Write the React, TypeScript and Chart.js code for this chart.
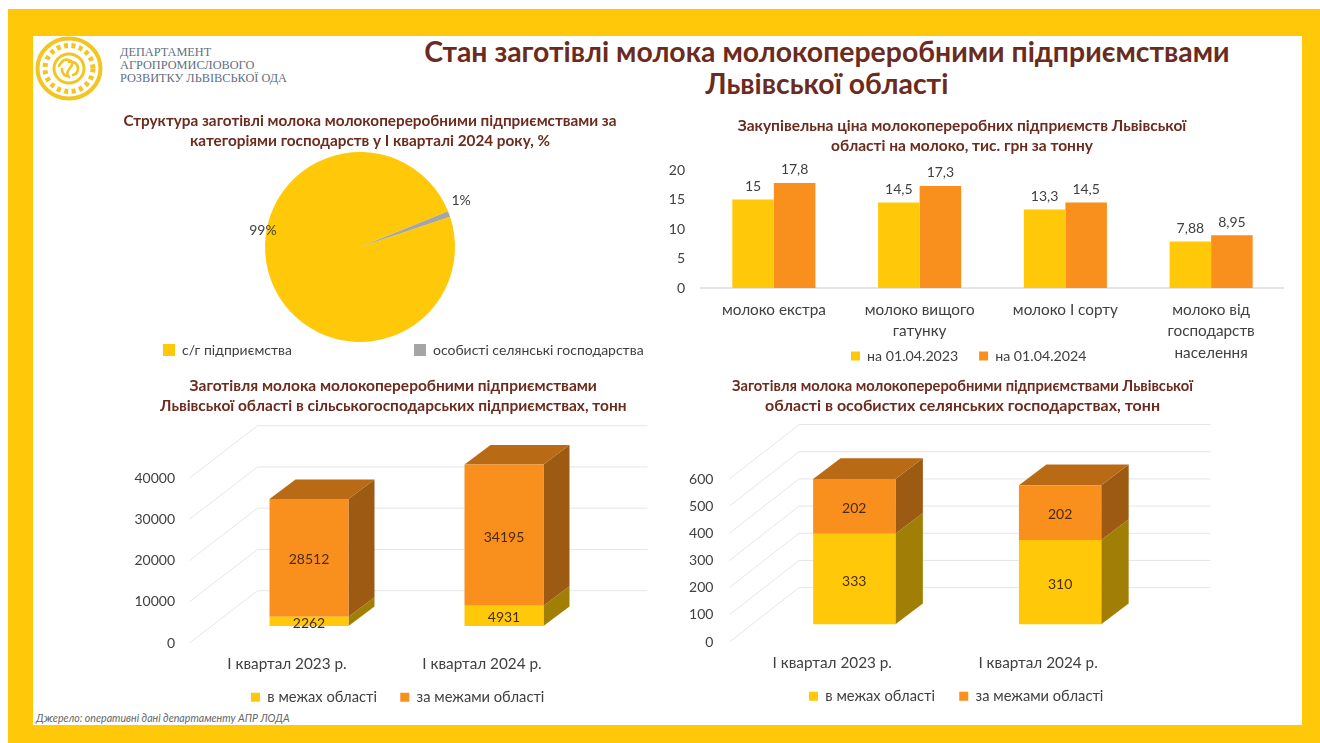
import React, { useEffect, useRef } from "react";
import { Chart, registerables } from "chart.js";

Chart.register(...registerables);

const FONT = "Lato, 'Noto Sans', sans-serif";
const YELLOW = "#FFC90A";
const ORANGE = "#F98F1C";
const TEXT = "#404040";
const TITLE = "#6B2B1E";

const mainTitle = ["Стан заготівлі молока молокопереробними підприємствами", "Львівської області"];
const orgName = ["ДЕПАРТАМЕНТ", "АГРОПРОМИСЛОВОГО", "РОЗВИТКУ ЛЬВІВСЬКОЇ ОДА"];
const sourceNote = "Джерело: оперативні дані департаменту АПР ЛОДА";

const pieTitle = ["Структура заготівлі молока молокопереробними підприємствами за", "категоріями господарств у І кварталі 2024 року, %"];
const pieLabels = ["с/г підприємства", "особисті селянські господарства"];
const pieValues = [99, 1];

const priceTitle = ["Закупівельна ціна молокопереробних підприємств Львівської", "області на молоко, тис. грн за тонну"];
const priceCategories = [["молоко екстра"], ["молоко вищого", "гатунку"], ["молоко І сорту"], ["молоко від", "господарств", "населення"]];
const price2023 = [15, 14.5, 13.3, 7.88];
const price2024 = [17.8, 17.3, 14.5, 8.95];

const quarters = ["І квартал 2023 р.", "І квартал 2024 р."];
const seriesInside = "в межах області";
const seriesOutside = "за межами області";

const farmsTitle = ["Заготівля молока молокопереробними підприємствами", "Львівської області в сільськогосподарських підприємствах, тонн"];
const farmsInside = [2262, 4931];
const farmsOutside = [28512, 34195];

const householdsTitle = ["Заготівля молока молокопереробними підприємствами Львівської", "області в особистих селянських господарствах, тонн"];
const householdsInside = [333, 310];
const householdsOutside = [202, 202];

const titleOpts = (text: string[], bottom: number, size = 15.5) => ({
  display: true,
  text,
  color: TITLE,
  font: { family: FONT, size, weight: "bold", lineHeight: "20px" },
  padding: { top: 0, bottom },
});

const legendOpts = (padding: number, box = 9, size = 14.7) => ({
  display: true,
  position: "bottom",
  labels: { padding, boxWidth: box, boxHeight: box, color: TEXT, font: { family: FONT, size } },
});

// Moves the built-in legend and title to a chosen spot without changing what they reserve.
const placeBoxes = {
  id: "placeBoxes",
  afterLayout(chart: any, _a: any, o: any) {
    const l = chart.legend;
    if (l && o.x !== undefined) {
      const pad = l.options.labels.padding;
      const cx = (l.left + pad + l.right - l.lineWidths[0]) / 2;
      const dx = o.x - cx;
      const dy = o.y - (l.top + pad);
      l.left += dx; l.right += dx; l.top += dy; l.bottom += dy;
    }
    if (o.titleDx) {
      chart.titleBlock.left += o.titleDx;
      chart.titleBlock.right += o.titleDx;
    }
  },
};

const shade = (hex: string, f: number) => {
  const n = parseInt(hex.slice(1), 16);
  const c = [n >> 16, (n >> 8) & 255, n & 255].map((v) => Math.round(v * f));
  return `rgb(${c[0]},${c[1]},${c[2]})`;
};

// Draws the walls and the side/top faces of the stacked columns from the scales and bar elements.
const depth3d = {
  id: "depth3d",
  beforeDatasetsDraw(chart: any, _a: any, o: any) {
    if (!o.wall) return;
    const { ctx, chartArea, scales } = chart;
    ctx.save();
    ctx.strokeStyle = "#E6E6E6";
    ctx.lineWidth = 1;
    scales.y.ticks.forEach((t: any) => {
      const py = scales.y.getPixelForValue(t.value);
      ctx.beginPath();
      ctx.moveTo(chartArea.left, py);
      ctx.lineTo(chartArea.left + o.wall.dx, py + o.wall.dy);
      ctx.lineTo(chartArea.right + o.wall.dx, py + o.wall.dy);
      ctx.stroke();
    });
    ctx.restore();
    ctx.save();
    ctx.translate(o.shift.dx, o.shift.dy);
    const last = chart.data.datasets.length - 1;
    chart.data.datasets.forEach((ds: any, i: number) => {
      chart.getDatasetMeta(i).data.forEach((el: any) => {
        const r = el.x + el.width / 2;
        const l = el.x - el.width / 2;
        ctx.fillStyle = shade(ds.backgroundColor, o.sideShade);
        ctx.beginPath();
        ctx.moveTo(r, el.base);
        ctx.lineTo(r + o.face.dx, el.base + o.face.dy);
        ctx.lineTo(r + o.face.dx, el.y + o.face.dy);
        ctx.lineTo(r, el.y);
        ctx.closePath();
        ctx.fill();
        if (i === last) {
          ctx.fillStyle = shade(ds.backgroundColor, o.topShade);
          ctx.beginPath();
          ctx.moveTo(l, el.y);
          ctx.lineTo(l + o.face.dx, el.y + o.face.dy);
          ctx.lineTo(r + o.face.dx, el.y + o.face.dy);
          ctx.lineTo(r, el.y);
          ctx.closePath();
          ctx.fill();
        }
      });
    });
  },
  afterDatasetsDraw(chart: any, _a: any, o: any) {
    if (o.wall) chart.ctx.restore();
  },
};

const valueLabels = {
  id: "valueLabels",
  afterDatasetsDraw(chart: any, _a: any, o: any) {
    if (!o.mode) return;
    const { ctx } = chart;
    ctx.save();
    ctx.font = `${o.size || 14}px ${FONT}`;
    ctx.fillStyle = o.color || TEXT;
    ctx.textAlign = "center";
    ctx.textBaseline = "middle";
    chart.data.datasets.forEach((ds: any, i: number) => {
      chart.getDatasetMeta(i).data.forEach((el: any, j: number) => {
        const v = ds.data[j];
        if (o.mode === "pie") {
          const mid = (el.startAngle + el.endAngle) / 2;
          const off = o.offsets[j];
          ctx.fillText(`${v}%`, el.x + Math.cos(mid) * el.outerRadius + off[0], el.y + Math.sin(mid) * el.outerRadius + off[1]);
        } else if (o.mode === "end") {
          ctx.fillText(String(v).replace(".", ","), el.x, el.y + o.dy);
        } else {
          ctx.fillText(String(v), el.x + o.dx, (el.y + el.base) / 2 + o.dy);
        }
      });
    });
    ctx.restore();
  },
};

const plugins = [placeBoxes, depth3d, valueLabels];

const fixedBarScales = (max: number, step: number, axisW: number, axisH: number, yPad: number, xPad: number, lineHeight: number, stacked: boolean, baseLine: boolean) => ({
  x: {
    stacked,
    grid: { display: false, drawTicks: false },
    border: { display: baseLine, color: "#E4E4E4", width: 2 },
    ticks: { color: TEXT, font: { family: FONT, size: 15.3, lineHeight: `${lineHeight}px` }, padding: xPad, maxRotation: 0, autoSkip: false },
    afterFit: (s: any) => { s.height = axisH; },
  },
  y: {
    stacked,
    min: 0,
    max,
    grid: { display: false, drawTicks: false },
    border: { display: false },
    ticks: { color: TEXT, font: { family: FONT, size: 14 }, padding: yPad, stepSize: step, callback: (v: any) => String(v) },
    afterFit: (s: any) => { s.width = axisW; },
  },
});

const stackedConfig = (title: string[], inside: number[], outside: number[], c: any) => ({
  type: "bar",
  data: {
    labels: quarters,
    datasets: [
      { label: seriesInside, data: inside, backgroundColor: YELLOW, borderWidth: 0, clip: false, categoryPercentage: c.cat, barPercentage: 1 },
      { label: seriesOutside, data: outside, backgroundColor: ORANGE, borderWidth: 0, clip: false, categoryPercentage: c.cat, barPercentage: 1 },
    ],
  },
  options: {
    animation: false,
    responsive: false,
    layout: { autoPadding: false, padding: { right: c.right } },
    scales: fixedBarScales(c.max, c.step, c.axisW, 35, c.yPad, 11, 20, true, false),
    plugins: {
      tooltip: { enabled: false },
      title: titleOpts(title, c.titleGap, c.titleSize),
      legend: legendOpts(c.gap),
      placeBoxes: c.place,
      depth3d: { wall: c.wall, face: c.face, shift: c.shift, sideShade: 0.63, topShade: 0.74 },
      valueLabels: { mode: "center", dx: c.shift.dx, dy: c.shift.dy + 2, color: "#4A2A12" },
    },
  },
});

function configs(): any[] {
  return [
    {
      type: "pie",
      data: { labels: pieLabels, datasets: [{ data: pieValues, backgroundColor: [YELLOW, "#A5A5A5"], borderWidth: 0 }] },
      options: {
        animation: false,
        responsive: false,
        rotation: 71.5,
        layout: { autoPadding: false, padding: { right: 20 } },
        plugins: {
          tooltip: { enabled: false },
          title: titleOpts(pieTitle, 1, 15.3),
          legend: legendOpts(122, 12, 14),
          placeBoxes: { x: 223, y: 232, titleDx: 10 },
          valueLabels: { mode: "pie", offsets: [[-8, -49], [12, -14]] },
        },
      },
    },
    {
      type: "bar",
      data: {
        labels: priceCategories,
        datasets: [
          { label: "на 01.04.2023", data: price2023, backgroundColor: YELLOW, borderWidth: 0, categoryPercentage: 0.57, barPercentage: 1 },
          { label: "на 01.04.2024", data: price2024, backgroundColor: ORANGE, borderWidth: 0, categoryPercentage: 0.57, barPercentage: 1 },
        ],
      },
      options: {
        animation: false,
        responsive: false,
        layout: { autoPadding: false },
        scales: fixedBarScales(20, 5, 61, 78, 16, 11, 21.5, false, true),
        plugins: {
          tooltip: { enabled: false },
          title: titleOpts(priceTitle, 14),
          legend: legendOpts(20.8, 9, 14.2),
          placeBoxes: { x: 211, y: 233 },
          valueLabels: { mode: "end", dy: -13 },
        },
      },
    },
    stackedConfig(farmsTitle, farmsInside, farmsOutside, {
      max: 40000, step: 10000, cat: 0.405, right: 94.5, axisW: 76.5, yPad: 14.5, titleGap: 62, gap: 23.3, titleSize: 15.5,
      place: { x: 138, y: 314, titleDx: 47 }, wall: { dx: 68, dy: -52.3 }, face: { dx: 26, dy: -19.5 }, shift: { dx: 22, dy: -17 },
    }),
    stackedConfig(householdsTitle, householdsInside, householdsOutside, {
      max: 600, step: 100, cat: 0.4, right: 103, axisW: 49.4, yPad: 16, titleGap: 63, gap: 24.3, titleSize: 16,
      place: { x: 129, y: 313, titleDx: 52 }, wall: { dx: 69.6, dy: -54.4 }, face: { dx: 27.4, dy: -20.8 }, shift: { dx: 22, dy: -17.7 },
    }),
  ];
}

const frames = [
  { left: -60, top: 111, width: 860, height: 377 },
  { left: 640, top: 116, width: 644, height: 295 },
  { left: 113, top: 376, width: 561, height: 350 },
  { left: 680, top: 376, width: 564, height: 350 },
];

const abs = (s: React.CSSProperties): React.CSSProperties => ({ position: "absolute", ...s });

function Logo() {
  return (
    <svg style={abs({ left: 35, top: 36, width: 68, height: 65 })} viewBox="0 0 68 65">
      <g fill="none" stroke="#F2C521">
        <ellipse cx="34" cy="32.5" rx="31.5" ry="30" strokeWidth="4" />
        <ellipse cx="34" cy="32.5" rx="24" ry="23" strokeWidth="5" strokeDasharray="4 3.5" />
        <ellipse cx="34" cy="32.5" rx="15" ry="14.5" strokeWidth="3" />
        <path d="M24 30 q4 -8 10 -6 q6 2 1 8 q-5 6 -1 9 M34 26 q8 -1 9 6 q0 6 -5 7 M27 33 q0 5 4 7" strokeWidth="2.6" strokeLinecap="round" />
      </g>
    </svg>
  );
}

export default function App() {
  const refs = useRef<(HTMLCanvasElement | null)[]>([]);
  useEffect(() => {
    document.body.style.margin = "0";
    const cfgs = configs();
    const charts = cfgs.map((cfg, i) => new Chart(refs.current[i] as HTMLCanvasElement, { ...cfg, plugins }));
    return () => charts.forEach((c) => c.destroy());
  }, []);
  return (
    <div style={{ position: "relative", width: 1320, height: 743, overflow: "hidden", background: "#fff" }}>
      <div style={abs({ left: 8, top: 9, width: 1312, height: 734, background: "#FFC90A" })} />
      <div style={abs({ left: 33, top: 36, width: 1269, height: 689, background: "#fff" })} />
      <Logo />
      {orgName.map((t, i) => (
        <div key={t} style={abs({ left: 120, top: 46 + i * 13, font: "12.3px 'Liberation Serif', serif", lineHeight: "13px", color: "#5F6F80", whiteSpace: "nowrap" })}>{t}</div>
      ))}
      {mainTitle.map((t, i) => (
        <div key={t} style={abs({ left: 327, width: 1000, top: 34 + i * 32, textAlign: "center", font: `bold 28.4px ${FONT}`, lineHeight: "34px", color: TITLE, whiteSpace: "nowrap" })}>{t}</div>
      ))}
      <div style={abs({ left: 36, top: 711, font: `italic 10.6px ${FONT}`, lineHeight: "14px", color: "#666", whiteSpace: "nowrap" })}>{sourceNote}</div>
      {frames.map((f, i) => (
        <canvas
          key={i}
          ref={(el) => { refs.current[i] = el; }}
          width={f.width}
          height={f.height}
          style={abs({ left: f.left, top: f.top, width: f.width, height: f.height })}
        />
      ))}
    </div>
  );
}
